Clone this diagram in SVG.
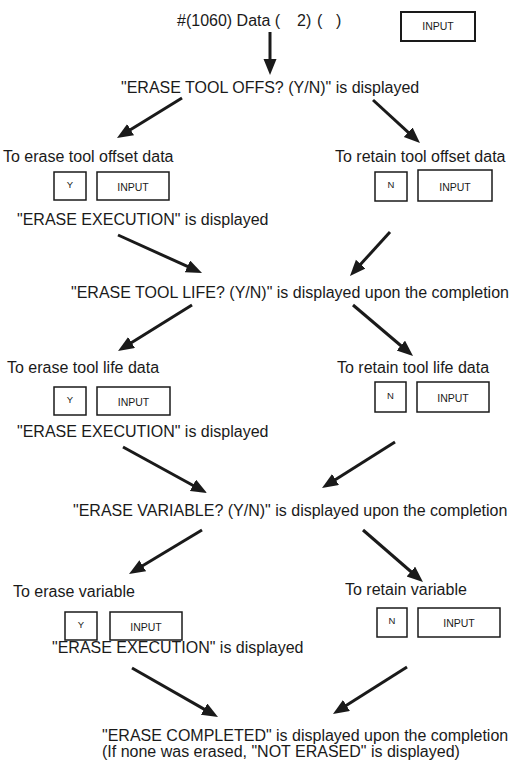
<svg xmlns="http://www.w3.org/2000/svg" width="512" height="762" viewBox="0 0 512 762">
<style>
text{font-family:"Liberation Sans",Arial,sans-serif;fill:#1a1a1a}
.t{font-size:16px}
.k{font-size:10.5px;text-anchor:middle}
.s{font-size:9.5px;text-anchor:middle}
.box{fill:#fff;stroke:#1a1a1a;stroke-width:1.5}
.arr{stroke:#1a1a1a;stroke-width:3;fill:none;marker-end:url(#ah)}
</style>
<defs>
<marker id="ah" markerUnits="userSpaceOnUse" markerWidth="17" markerHeight="14" refX="6" refY="6.5" orient="auto">
<path d="M0,0 L16,6.5 L0,13 z" fill="#1a1a1a"/>
</marker>
</defs>
<rect width="512" height="762" fill="#fff"/>
<g id="start">
<text class="t" x="177" y="26">#(1060) Data (<tspan x="297">2)</tspan><tspan x="317">(</tspan><tspan x="336">)</tspan></text>
<rect x="401" y="12" width="74" height="29" fill="#fff" stroke="#1a1a1a" stroke-width="2"/>
<text class="k" x="438" y="30">INPUT</text>
</g>
<g id="q-offs"><text class="t" x="121" y="93">"ERASE TOOL OFFS? (Y/N)" is displayed</text></g>
<g id="erase-offs">
<text class="t" x="3" y="162">To erase tool offset data</text>
<rect class="box" x="54" y="172" width="32" height="28"/><text class="s" x="70" y="188">Y</text>
<rect class="box" x="97" y="172" width="72" height="28"/><text class="k" x="133" y="191">INPUT</text>
<text class="t" x="17" y="225">"ERASE EXECUTION" is displayed</text>
</g>
<g id="retain-offs">
<text class="t" x="335" y="162">To retain tool offset data</text>
<rect class="box" x="375" y="172" width="32" height="29"/><text class="s" x="391" y="188">N</text>
<rect class="box" x="418" y="170" width="74" height="31"/><text class="k" x="455" y="191">INPUT</text>
</g>
<g id="q-life"><text class="t" x="71" y="298">"ERASE TOOL LIFE? (Y/N)" is displayed upon the completion</text></g>
<g id="erase-life">
<text class="t" x="7" y="373">To erase tool life data</text>
<rect class="box" x="54" y="387" width="32" height="28"/><text class="s" x="70" y="403">Y</text>
<rect class="box" x="97" y="387" width="73" height="28"/><text class="k" x="133.5" y="406">INPUT</text>
<text class="t" x="17" y="437">"ERASE EXECUTION" is displayed</text>
</g>
<g id="retain-life">
<text class="t" x="337" y="373">To retain tool life data</text>
<rect class="box" x="375" y="382" width="31" height="30"/><text class="s" x="390.5" y="399">N</text>
<rect class="box" x="417" y="382" width="72" height="30"/><text class="k" x="453" y="402">INPUT</text>
</g>
<g id="q-var"><text class="t" x="73" y="516">"ERASE VARIABLE? (Y/N)" is displayed upon the completion</text></g>
<g id="erase-var">
<text class="t" x="13" y="597">To erase variable</text>
<rect class="box" x="65" y="612" width="32" height="28"/><text class="s" x="81" y="628">Y</text>
<rect class="box" x="110" y="612" width="72" height="28"/><text class="k" x="146" y="631">INPUT</text>
<text class="t" x="52" y="653">"ERASE EXECUTION" is displayed</text>
</g>
<g id="retain-var">
<text class="t" x="345" y="595">To retain variable</text>
<rect class="box" x="377" y="608" width="30" height="29"/><text class="s" x="392" y="624">N</text>
<rect class="box" x="418" y="608" width="82" height="29"/><text class="k" x="459" y="627">INPUT</text>
</g>
<g id="done">
<text class="t" x="102" y="741">"ERASE COMPLETED" is displayed upon the completion</text>
<text class="t" x="102" y="757">(If none was erased, "NOT ERASED" is displayed)</text>
</g>
<g id="connectors">
<line class="arr" x1="270" y1="32" x2="270" y2="65"/>
<line class="arr" x1="182" y1="98" x2="125.5" y2="132.8"/>
<line class="arr" x1="373" y1="100" x2="412.6" y2="136.3"/>
<line class="arr" x1="118" y1="235" x2="192.9" y2="268.9"/>
<line class="arr" x1="390" y1="232" x2="356.7" y2="268.6"/>
<line class="arr" x1="192" y1="305" x2="126.5" y2="345.7"/>
<line class="arr" x1="353" y1="305" x2="405.4" y2="349.5"/>
<line class="arr" x1="123" y1="447" x2="198.2" y2="488.2"/>
<line class="arr" x1="395" y1="442" x2="330.5" y2="482.7"/>
<line class="arr" x1="202" y1="530" x2="137.6" y2="568.8"/>
<line class="arr" x1="363" y1="530" x2="415.4" y2="575.5"/>
<line class="arr" x1="132" y1="668" x2="209.3" y2="712.1"/>
<line class="arr" x1="407" y1="667" x2="341.4" y2="708.6"/>
</g>
</svg>
